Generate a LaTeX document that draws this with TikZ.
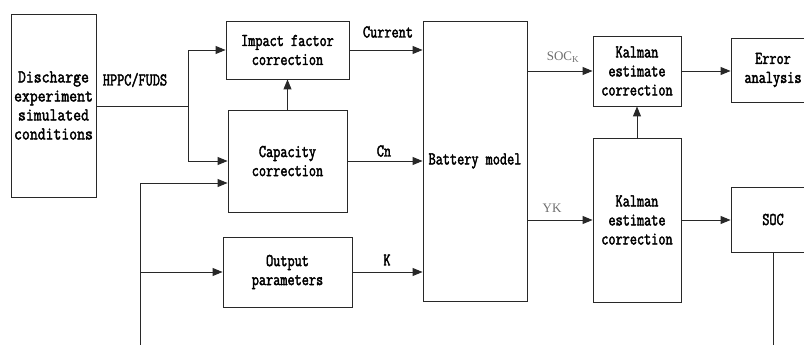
\documentclass[tikz,border=0pt]{standalone}
\usepackage{fontspec}
\usetikzlibrary{arrows.meta}
\newfontfamily\boxfont{Latin Modern Mono}[FakeStretch=0.77, FakeBold=2.2]
\newfontfamily\wideboxfont{Latin Modern Mono}[FakeStretch=0.85, FakeBold=2.2]
\newfontfamily\labfont{Liberation Serif}
\definecolor{labgray}{RGB}{110,110,110}
\definecolor{linec}{RGB}{40,40,40}
\tikzset{
  blk/.style={draw=linec, line width=0.9pt, inner sep=0pt, align=center,
    font=\boxfont\fontsize{18}{19}\selectfont},
  conn/.style={draw=linec, line width=0.9pt},
  arr/.style={conn, -{Triangle[length=10pt,width=8pt]}},
  lab/.style={inner sep=0pt, font=\boxfont\fontsize{18}{19}\selectfont},
  glab/.style={inner sep=0pt, text=labgray, font=\labfont\fontsize{13}{15}\selectfont}
}
\begin{document}
\begin{tikzpicture}[x=1pt,y=-1pt]
\useasboundingbox (0,0) rectangle (804,345);
\clip (0,0) rectangle (804,345);
% blocks
\node[blk, minimum width=85pt, minimum height=183pt, font=\wideboxfont\fontsize{18}{19}\selectfont] (dis) at (53.5,105.5) {Discharge\\experiment\\simulated\\conditions};
\node[blk, minimum width=123pt, minimum height=58pt] (imp) at (287.5,50) {Impact factor\\correction};
\node[blk, minimum width=119pt, minimum height=102pt] (cap) at (287.5,161) {Capacity\\correction};
\node[blk, minimum width=129pt, minimum height=70pt] (out) at (287.5,272) {Output\\parameters};
\node[blk, minimum width=104pt, minimum height=280pt] (bat) at (475,161) {Battery model};
\node[blk, minimum width=88pt, minimum height=70pt] (k1) at (637,71) {Kalman\\estimate\\correction};
\node[blk, minimum width=88pt, minimum height=164pt] (k2) at (637,220) {Kalman\\estimate\\correction};
\node[blk, minimum width=84pt, minimum height=64pt] (err) at (773,70) {Error\\analysis};
\node[blk, minimum width=84pt, minimum height=65pt] (soc) at (773,219.5) {SOC};
% coordinates
\coordinate (j) at (188,106);
\coordinate (fbL) at (140,345);
\coordinate (fbTop) at (140,183);
\coordinate (fbR) at (773,345);
% connectors
\draw[conn] (dis.east |- j) -- (j);
\draw[arr] (j) |- (imp.west);
\draw[arr] (j) |- (cap.west);
\draw[arr] (fbL) -- (fbTop) -- (cap.west |- fbTop);
\draw[arr] (out.west -| fbL) -- (out.west);
\draw[arr] (cap.north) -- (imp.south);
\draw[arr] (imp.east) -- (bat.west |- imp.east);
\draw[arr] (cap.east) -- (bat.west |- cap.east);
\draw[arr] (out.east) -- (bat.west |- out.east);
\draw[arr] (bat.east |- k1.west) -- (k1.west);
\draw[arr] (bat.east |- k2.west) -- (k2.west);
\draw[arr] (k2.north) -- (k1.south);
\draw[arr] (k1.east) -- (err.west |- k1.east);
\draw[arr] (k2.east) -- (soc.west |- k2.east);
\draw[conn] (soc.south) -- (fbR);
% labels
\node[lab] (lhppc) at (135,80) {HPPC/FUDS};
\node[lab] (lcur) at (388,32) {Current};
\node[lab] (lcn) at (384,151) {Cn};
\node[lab] (lk) at (387,260) {K};
\node[glab] (lsoc) at (563,57) {SOC\textsubscript{K}};
\node[glab] (lyk) at (552,208) {YK};
\end{tikzpicture}
\end{document}
